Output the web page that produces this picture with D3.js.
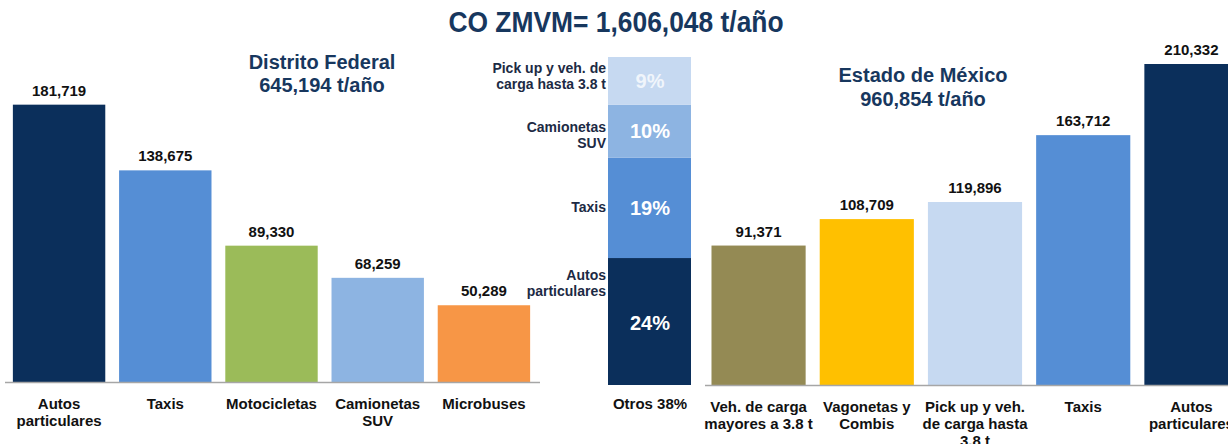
<!DOCTYPE html>
<meta charset="utf-8">
<style>
body { margin: 0; background: #fff; }
svg text { font-family: "Liberation Sans Narrow", "Arial Narrow", "Liberation Sans", sans-serif; font-weight: bold; }
.title { fill: #17375e; font-size: 30px; }
.sub { fill: #17375e; font-size: 20px; }
.val { fill: #111; font-size: 15px; }
.cat { fill: #111; font-size: 15px; }
.side { fill: #1c2a44; font-size: 14px; }
.pct { fill: #fff; font-size: 20px; }
</style>
<body>
<script src="https://d3js.org/d3.v7.min.js"></script>
<script>

// Distrito Federal
var dfCats = [["Autos", "particulares"], ["Taxis"], ["Motocicletas"], ["Camionetas", "SUV"], ["Microbuses"]];
var dfVals = [181719, 138675, 89330, 68259, 50289];
var dfColors = ["#0b2f5b", "#558ed5", "#9bbb59", "#8db4e2", "#f79646"];

// Estado de Mexico
var emCats = [["Veh. de carga", "mayores a 3.8 t"], ["Vagonetas y", "Combis"], ["Pick up y veh.", "de carga hasta", "3.8 t"], ["Taxis"], ["Autos", "particulares"]];
var emVals = [91371, 108709, 119896, 163712, 210332];
var emColors = ["#948a54", "#ffc000", "#c6d9f1", "#558ed5", "#0b2f5b"];

// Otros (stacked, bottom to top)
var otrosCats = [["Autos", "particulares"], ["Taxis"], ["Camionetas", "SUV"], ["Pick up y veh. de", "carga hasta 3.8 t"]];
var otrosPct = [24, 19, 10, 9];
var otrosColors = ["#0b2f5b", "#558ed5", "#8db4e2", "#c6d9f1"];

var W = 1228, H = 444;
var svg = d3.select("body").append("svg").attr("width", W).attr("height", H);

// title, squeezed a bit to look like the narrow original font
svg.append("text").attr("class", "title")
  .attr("x", 616).attr("y", 32).attr("text-anchor", "middle")
  .attr("transform", "translate(616,0) scale(0.88,1) translate(-616,0)")
  .text("CO ZMVM= 1,606,048 t/año");

function barChart(cats, vals, colors, x0, x1, base, lineX0, lineX1) {
  var x = d3.scaleBand().domain(d3.range(cats.length)).range([x0, x1])
    .paddingInner(0.13).paddingOuter(0.06);
  var y = d3.scaleLinear().domain([0, 210332]).range([base, base - 321]);
  var g = svg.append("g");
  g.selectAll("rect").data(vals).enter().append("rect")
    .attr("x", function(d, i) { return x(i); })
    .attr("y", function(d) { return y(d); })
    .attr("width", x.bandwidth())
    .attr("height", function(d) { return base - y(d); })
    .attr("fill", function(d, i) { return colors[i]; });
  g.selectAll(".val").data(vals).enter().append("text").attr("class", "val")
    .attr("x", function(d, i) { return x(i) + x.bandwidth() / 2; })
    .attr("y", function(d) { return y(d) - 9; })
    .attr("text-anchor", "middle")
    .text(d3.format(","));
  g.append("line").attr("x1", lineX0).attr("x2", lineX1).attr("y1", base + 0.5).attr("y2", base + 0.5)
    .attr("stroke", "#a6a6a6").attr("stroke-width", 1.5);
  var lab = g.selectAll(".cat").data(cats).enter().append("text").attr("class", "cat")
    .attr("text-anchor", "middle")
    .attr("y", base + 27);
  lab.selectAll("tspan").data(function(d, i) { return d.map(function(t) { return {t: t, i: i}; }); })
    .enter().append("tspan")
    .attr("x", function(d) { return x(d.i) + x.bandwidth() / 2; })
    .attr("dy", function(d, j) { return j ? 17 : 0; })
    .text(function(d) { return d.t; });
}

barChart(dfCats, dfVals, dfColors, 6.5, 536.5, 382, 5, 540);
barChart(emCats, emVals, emColors, 705, 1245, 385, 705, 1228);

svg.append("text").attr("class", "sub").attr("x", 322).attr("y", 69).attr("text-anchor", "middle").text("Distrito Federal");
svg.append("text").attr("class", "sub").attr("x", 322).attr("y", 92).attr("text-anchor", "middle").text("645,194 t/año");
svg.append("text").attr("class", "sub").attr("x", 923).attr("y", 82).attr("text-anchor", "middle").text("Estado de México");
svg.append("text").attr("class", "sub").attr("x", 923).attr("y", 106).attr("text-anchor", "middle").text("960,854 t/año");

// stacked Otros bar
var py = d3.scaleLinear().domain([0, 62]).range([385, 57]);
var cum = d3.cumsum(otrosPct);
var seg = otrosPct.map(function(p, i) { return {p: p, lo: cum[i] - p, hi: cum[i], i: i}; });
var og = svg.append("g");
og.selectAll("rect").data(seg).enter().append("rect")
  .attr("x", 608).attr("width", 83)
  .attr("y", function(d) { return py(d.hi); })
  .attr("height", function(d) { return py(d.lo) - py(d.hi); })
  .attr("fill", function(d) { return otrosColors[d.i]; });
og.selectAll(".pct").data(seg).enter().append("text").attr("class", "pct")
  .attr("x", 650).attr("text-anchor", "middle")
  .attr("y", function(d) { return d.i === 0 ? py(d.lo) - 55 : (py(d.lo) + py(d.hi)) / 2 + 7; })
  .attr("fill-opacity", function(d) { return d.i === 3 ? 0.75 : 1; })
  .text(function(d) { return d.p + "%"; });
var sideY = [280, 212, 132, 73];
var side = og.selectAll(".side").data(seg).enter().append("text").attr("class", "side")
  .attr("text-anchor", "end")
  .attr("y", function(d) { return sideY[d.i]; });
side.selectAll("tspan").data(function(d) { return otrosCats[d.i]; }).enter().append("tspan")
  .attr("x", 606).attr("dy", function(d, j) { return j ? 16 : 0; })
  .text(function(d) { return d; });
svg.append("text").attr("class", "cat").attr("x", 650).attr("y", 409).attr("text-anchor", "middle").text("Otros 38%");

</script>
</body>
